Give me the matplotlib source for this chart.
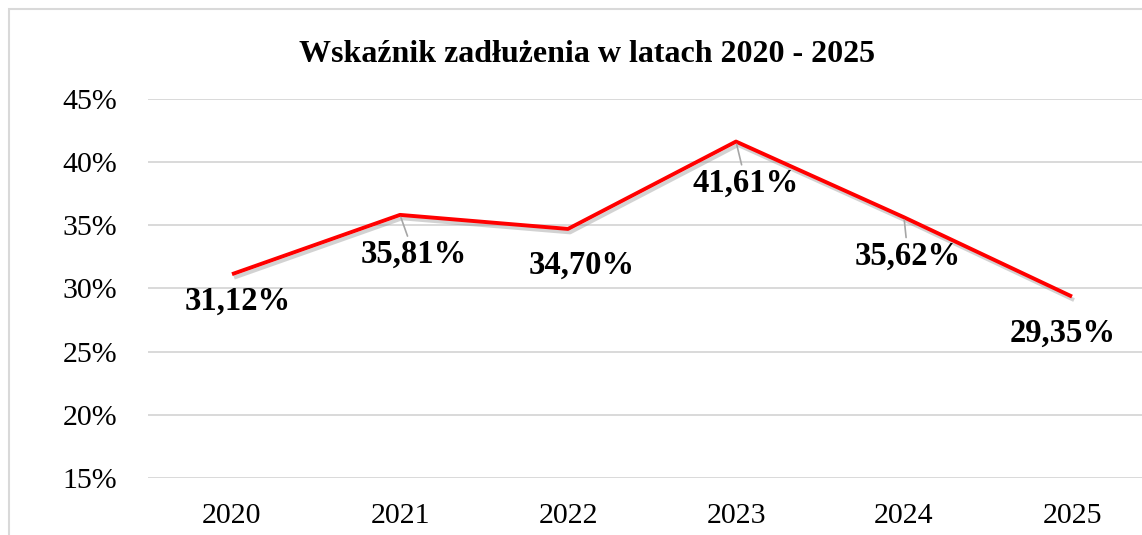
import matplotlib
matplotlib.use('Agg')
import matplotlib.pyplot as plt
import matplotlib.patheffects as pe
from matplotlib.patches import Rectangle
from matplotlib.ticker import FuncFormatter, MultipleLocator

# data
years = ['2020', '2021', '2022', '2023', '2024', '2025']
ratio = [31.12, 35.81, 34.70, 41.61, 35.62, 29.35]
labels = ['31,12%', '35,81%', '34,70%', '41,61%', '35,62%', '29,35%']

# label placement (pixels from the point) and which ones get a leader line
label_offsets = [(6, -36), (14, -48), (14, -45), (10, -50), (4, -47), (-9, -45)]
leaders = [False, True, False, True, True, False]

plt.rcParams['font.family'] = ['Liberation Serif', 'DejaVu Serif']

fig = plt.figure(figsize=(11.42, 5.35), dpi=100)

# chart border (cut off on the right and bottom like the screenshot)
fig.patches.append(Rectangle((9 / 1142, -0.1), 1.2, 1 - 9 / 535 + 0.1,
                             transform=fig.transFigure, fill=False,
                             edgecolor='#D9D9D9', linewidth=1.5))

ax = fig.add_axes([148 / 1142, 1 - 478 / 535, 1008 / 1142, (478 - 98.7) / 535])

x = list(range(len(years)))
ax.plot(x, ratio, color='#FF0000', linewidth=2.8, solid_capstyle='butt',
        path_effects=[pe.SimpleLineShadow(offset=(1.5, -2.5), shadow_color='#909090', alpha=0.4),
                      pe.Normal()], zorder=3)

for i in range(len(years)):
    dx, dy = label_offsets[i]
    arrow = dict(arrowstyle='-', color='#A6A6A6', linewidth=1.2, shrinkA=0, shrinkB=2) if leaders[i] else None
    ax.annotate(labels[i], (x[i], ratio[i]), xytext=(dx, dy), textcoords='offset pixels',
                ha='center', va='baseline', fontsize=23.5, fontweight='bold',
                color='black', arrowprops=arrow, zorder=4)

ax.set_xlim(-0.5, len(years) - 0.5)
ax.set_ylim(15, 45)
ax.set_xticks(x)
ax.set_xticklabels(years)
ax.yaxis.set_major_locator(MultipleLocator(5))
ax.yaxis.set_major_formatter(FuncFormatter(lambda v, p: '%d%%' % v))
ax.tick_params(axis='both', length=0, labelsize=21.5, colors='black')
ax.tick_params(axis='y', pad=22)
ax.tick_params(axis='x', pad=18)
ax.grid(axis='y', color='#D9D9D9', linewidth=1.4)
ax.set_axisbelow(True)
for s in ax.spines.values():
    s.set_visible(False)

fig.text(587 / 1142, 1 - 62 / 535, 'Wskaźnik zadłużenia w latach 2020 - 2025',
         ha='center', va='baseline', fontsize=23, fontweight='bold')

fig.savefig('out.png', dpi=100)
